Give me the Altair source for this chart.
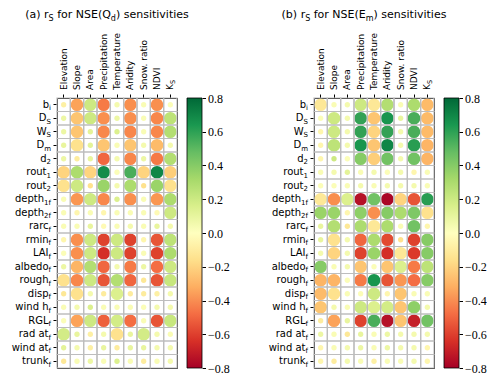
import altair as alt
import pandas as pd

# ---------------- data ----------------
col_names = ["Elevation", "Slope", "Area", "Precipitation", "Temperature",
             "Aridity", "Snow. ratio", "NDVI", "K"]
col_subs = ["", "", "", "", "", "", "", "", "S"]
row_bases = ["b", "D", "W", "D", "d", "rout", "rout", "depth", "depth", "rarc",
             "rmin", "LAI", "albedo", "rough", "disp", "wind h", "RGL",
             "rad at", "wind at", "trunk"]
row_subs = ["i", "S", "S", "m", "2", "1", "2", "1f", "2f", "f",
            "f", "f", "f", "f", "f", "f", "f", "f", "f", "f"]

# panel (a): r_S for NSE(Q_d)
r_a = [
    [-0.08, -0.35, 0.20, -0.45, 0.05, -0.40, 0.03, -0.40, 0.02],
    [0.08, -0.25, 0.20, -0.40, 0.08, -0.40, 0.03, -0.42, 0.25],
    [0.08, -0.25, 0.12, -0.42, 0.15, -0.42, 0.03, -0.42, 0.28],
    [0.10, -0.15, 0.12, -0.25, 0.03, -0.25, 0.05, -0.28, 0.05],
    [0.08, -0.10, 0.10, -0.50, 0.05, -0.42, 0.08, -0.45, 0.28],
    [-0.20, 0.30, -0.20, 0.68, 0.02, 0.55, -0.20, 0.70, -0.22],
    [-0.15, 0.20, -0.15, 0.35, 0.05, 0.30, -0.15, 0.35, -0.15],
    [0.03, -0.38, 0.20, -0.42, 0.15, -0.40, 0.03, -0.38, 0.30],
    [0.03, -0.05, 0.03, -0.05, 0.03, 0.03, 0.03, -0.03, 0.20],
    [0.03, 0.03, 0.10, -0.03, 0.03, 0.05, 0.03, 0.10, 0.05],
    [-0.05, -0.40, 0.20, -0.60, 0.20, -0.60, -0.05, -0.55, 0.25],
    [0.02, -0.40, 0.20, -0.65, 0.20, -0.60, 0.03, -0.60, 0.30],
    [0.08, -0.30, 0.28, -0.50, 0.05, -0.45, 0.08, -0.48, 0.20],
    [-0.15, -0.42, 0.20, -0.55, 0.28, -0.50, -0.12, -0.55, 0.22],
    [-0.12, -0.15, 0.05, -0.10, 0.15, -0.10, -0.10, -0.08, 0.05],
    [0.03, 0.05, 0.15, 0.03, 0.03, 0.03, 0.02, 0.05, 0.05],
    [0.02, -0.35, 0.20, -0.52, 0.18, -0.48, 0.03, -0.55, 0.22],
    [0.18, 0.10, -0.08, 0.05, -0.15, 0.10, 0.18, 0.05, 0.03],
    [0.12, 0.05, -0.08, 0.10, -0.10, 0.10, 0.10, 0.05, 0.05],
    [-0.12, 0.03, 0.08, 0.03, 0.15, 0.03, -0.10, 0.03, 0.05],
]
sig_a = [
    [0, 1, 1, 1, 0, 1, 0, 1, 0],
    [0, 1, 1, 1, 0, 1, 0, 1, 1],
    [0, 1, 0, 1, 0, 1, 0, 1, 1],
    [0, 1, 0, 1, 0, 1, 0, 1, 0],
    [0, 0, 0, 1, 0, 1, 0, 1, 1],
    [1, 1, 1, 1, 0, 1, 1, 1, 1],
    [1, 1, 0, 1, 0, 1, 0, 1, 1],
    [0, 1, 1, 1, 0, 1, 0, 1, 1],
    [0, 0, 0, 0, 0, 0, 0, 0, 1],
    [0, 0, 0, 0, 0, 0, 0, 0, 0],
    [0, 1, 1, 1, 1, 1, 0, 1, 1],
    [0, 1, 1, 1, 1, 1, 0, 1, 1],
    [0, 1, 1, 1, 0, 1, 0, 1, 1],
    [1, 1, 1, 1, 1, 1, 0, 1, 1],
    [0, 1, 0, 0, 1, 0, 0, 0, 0],
    [0, 0, 0, 0, 0, 0, 0, 0, 0],
    [0, 1, 1, 1, 1, 1, 0, 1, 1],
    [1, 0, 0, 0, 1, 0, 1, 0, 0],
    [0, 0, 0, 0, 0, 0, 0, 0, 0],
    [0, 0, 0, 0, 0, 0, 0, 0, 0],
]

# panel (b): r_S for NSE(E_m)
r_b = [
    [-0.12, 0.03, 0.05, 0.20, -0.12, 0.28, 0.03, 0.30, -0.28],
    [0.02, 0.20, 0.05, 0.60, -0.25, 0.65, 0.10, 0.55, -0.28],
    [-0.05, 0.20, 0.05, 0.60, -0.20, 0.60, 0.05, 0.55, -0.28],
    [-0.05, 0.25, 0.05, 0.65, -0.25, 0.70, 0.05, 0.62, -0.30],
    [-0.05, 0.20, 0.02, 0.40, -0.22, 0.45, 0.05, 0.45, -0.30],
    [0.03, 0.05, 0.12, 0.03, 0.05, 0.02, 0.05, -0.05, 0.03],
    [0.02, 0.02, 0.03, 0.05, 0.03, 0.05, 0.05, 0.05, 0.03],
    [-0.12, -0.40, 0.15, -0.75, 0.45, -0.78, -0.20, -0.55, 0.62],
    [0.35, 0.35, -0.05, 0.38, -0.40, 0.40, 0.30, 0.42, -0.15],
    [0.10, 0.28, -0.12, 0.30, -0.12, 0.30, 0.03, 0.45, -0.05],
    [0.10, -0.15, 0.05, -0.50, 0.30, -0.58, -0.15, -0.60, 0.40],
    [0.05, -0.20, 0.05, -0.60, 0.35, -0.65, -0.12, -0.62, 0.40],
    [0.40, 0.03, 0.05, -0.25, 0.02, -0.25, 0.15, -0.45, 0.25],
    [-0.30, -0.30, 0.02, -0.45, 0.65, -0.55, -0.38, -0.48, 0.40],
    [-0.28, -0.15, 0.03, 0.02, 0.20, -0.05, -0.25, 0.03, 0.03],
    [-0.25, 0.05, 0.03, 0.20, 0.15, 0.18, -0.25, 0.38, 0.05],
    [-0.10, -0.35, 0.10, -0.60, 0.55, -0.75, -0.25, -0.70, 0.45],
    [0.08, 0.03, -0.12, 0.10, 0.03, 0.08, 0.05, 0.05, 0.05],
    [-0.05, 0.03, 0.05, 0.08, 0.03, 0.08, 0.05, 0.05, -0.05],
    [-0.05, -0.10, 0.05, 0.03, -0.08, 0.03, 0.03, 0.05, -0.05],
]
sig_b = [
    [1, 0, 0, 1, 1, 1, 0, 1, 1],
    [0, 1, 0, 1, 1, 1, 0, 1, 1],
    [0, 1, 0, 1, 1, 1, 0, 1, 1],
    [0, 1, 0, 1, 1, 1, 0, 1, 1],
    [0, 0, 0, 1, 1, 1, 0, 1, 1],
    [0, 0, 0, 0, 0, 0, 0, 0, 0],
    [0, 0, 0, 0, 0, 0, 0, 0, 0],
    [1, 1, 1, 1, 1, 1, 1, 1, 1],
    [1, 1, 0, 1, 1, 1, 1, 1, 1],
    [0, 1, 0, 1, 1, 1, 0, 1, 0],
    [0, 1, 0, 1, 1, 1, 0, 1, 1],
    [0, 1, 0, 1, 1, 1, 1, 1, 1],
    [1, 0, 0, 1, 0, 1, 1, 1, 1],
    [1, 1, 0, 1, 1, 1, 1, 1, 1],
    [1, 1, 0, 0, 1, 0, 1, 0, 0],
    [1, 0, 0, 1, 1, 1, 1, 1, 0],
    [0, 1, 0, 1, 1, 1, 1, 1, 1],
    [0, 0, 0, 0, 0, 0, 0, 0, 0],
    [0, 0, 0, 0, 0, 0, 0, 0, 0],
    [0, 0, 0, 0, 0, 0, 0, 0, 0],
]

# title pieces: (text, is_subscript, leading space)
title_a = [("(a) r", 0, 0), ("S", 1, 0), ("for NSE(Q", 0, 1), ("d", 1, 0),
           (") sensitivities", 0, 0)]
title_b = [("(b) r", 0, 0), ("S", 1, 0), ("for NSE(E", 0, 1), ("m", 1, 0),
           (") sensitivities", 0, 0)]

cbar_ticks = [-0.8, -0.6, -0.4, -0.2, 0.0, 0.2, 0.4, 0.6, 0.8]

# ---------------- styling ----------------
SANS = "DejaVu Sans"
SERIF = "Liberation Serif"
RDYLGN = ["#a50026", "#d73027", "#f46d43", "#fdae61", "#fee08b", "#ffffbf",
          "#d9ef8b", "#a6d96a", "#66bd63", "#1a9850", "#006837"]
CDOM = [-0.8 + 0.16 * k for k in range(11)]
PW, PH = 120, 270
FS_TITLE, FS_TSUB = 11, 8
FS_Y, FS_YSUB = 10, 7
FS_X, FS_XSUB = 9, 6.5

W_EM = {" ": 0.318, "(": 0.390, ")": 0.390, ".": 0.318, "a": 0.613,
        "b": 0.635, "c": 0.550, "d": 0.635, "e": 0.615, "f": 0.352, "h": 0.634,
        "i": 0.278, "l": 0.278, "m": 0.974, "n": 0.634, "o": 0.612, "p": 0.635,
        "r": 0.411, "s": 0.521, "t": 0.392, "u": 0.634, "v": 0.592, "w": 0.818,
        "E": 0.632, "K": 0.656, "N": 0.748, "Q": 0.787, "S": 0.635, "1": 0.636,
        "2": 0.636}


def tw(s, fs):
    return sum(W_EM.get(ch, 0.6) for ch in s) * fs


row_keys = [b + "_" + s for b, s in zip(row_bases, row_subs)]
col_keys = [c + s for c, s in zip(col_names, col_subs)]


def panel(r, sig, tpieces):
    recs = []
    for i, rk in enumerate(row_keys):
        for j, ck in enumerate(col_keys):
            recs.append({"row": rk, "col": ck, "r": r[i][j], "sig": sig[i][j]})
    df = pd.DataFrame(recs)

    xenc = alt.X("col:N", scale=alt.Scale(domain=col_keys, paddingInner=0, paddingOuter=0),
                 axis=alt.Axis(orient="top", labels=False, title=None, tickSize=4,
                               tickColor="black", domainColor="black", grid=False))
    yenc = alt.Y("row:N", scale=alt.Scale(domain=row_keys, paddingInner=0, paddingOuter=0),
                 axis=alt.Axis(orient="left", labels=False, title=None, tickSize=4,
                               tickColor="black", domainColor="black", grid=False))

    circles = alt.Chart(df).mark_circle(opacity=1).encode(
        x=xenc, y=yenc,
        color=alt.Color("r:Q", scale=alt.Scale(domain=CDOM, range=RDYLGN), legend=None),
        size=alt.Size("sig:Q", scale=alt.Scale(domain=[0, 1], range=[28, 160]), legend=None),
    )
    cells = alt.Chart(df).mark_rect(filled=False, stroke="#bdbdbd", strokeWidth=1.2).encode(
        x=alt.X("col:N"), y=alt.Y("row:N"))

    lab = pd.DataFrame({"row": row_keys, "base": row_bases, "sub": row_subs,
                        "lx": [-(6 + tw(s, FS_YSUB)) for s in row_subs]})
    ybase = alt.Chart(lab).mark_text(align="right", baseline="middle", font=SANS,
                                     fontSize=FS_Y, color="black").encode(
        x=alt.X("lx:Q", scale=None, axis=None), y=alt.Y("row:N"), text="base:N")
    ysub = alt.Chart(lab).mark_text(align="left", baseline="middle", font=SANS,
                                    fontSize=FS_YSUB, dy=3.5, color="black").encode(
        x=alt.X("lx:Q", scale=None, axis=None), y=alt.Y("row:N"), text="sub:N")

    xl = pd.DataFrame({"col": col_keys, "label": col_names, "sub": col_subs})
    xbase = alt.Chart(xl).mark_text(angle=270, align="left", baseline="middle", font=SANS,
                                    fontSize=FS_X, dx=8, color="black").encode(
        x=alt.X("col:N"), y=alt.value(0), text="label:N")
    xsub = alt.Chart(xl[xl["sub"] != ""]).mark_text(
        angle=270, align="left", baseline="middle", font=SANS, fontSize=FS_XSUB,
        dx=8 + tw("K", FS_X), dy=2.5, color="black").encode(
        x=alt.X("col:N"), y=alt.value(0), text="sub:N")

    space = tw(" ", FS_TITLE)
    total = sum(tw(t, FS_TSUB if s else FS_TITLE) + (space if g else 0)
                for t, s, g in tpieces)
    x0 = 50 - total / 2
    trecs = []
    for t, s, g in tpieces:
        fs = FS_TSUB if s else FS_TITLE
        if g:
            x0 += space
        trecs.append({"t": t, "px": x0, "py": -80 + (3 if s else 0), "fs": fs})
        x0 += tw(t, fs)
    tdf = pd.DataFrame(trecs)
    title = alt.Chart(tdf).mark_text(align="left", baseline="alphabetic", font=SANS,
                                     color="black").encode(
        x=alt.X("px:Q", scale=None, axis=None), y=alt.Y("py:Q", scale=None, axis=None),
        size=alt.Size("fs:Q", scale=None, legend=None), text="t:N")

    grid_part = alt.layer(circles, cells, ybase, ysub, xbase, xsub, title)

    # colour bar, drawn 10 px right of the grid
    grad = {"gradient": "linear", "x1": 0, "x2": 0, "y1": 1, "y2": 0,
            "stops": [{"offset": k / 10, "color": c} for k, c in enumerate(RDYLGN)]}
    cbar = alt.Chart(pd.DataFrame({"v": [0]})).mark_rect(
        fill=grad, stroke="black", strokeWidth=0.8).encode(
        x=alt.value(PW + 10), x2=alt.value(PW + 25),
        y=alt.YDatum(0.8, type="quantitative",
                     scale=alt.Scale(domain=[-0.8, 0.8], nice=False, zero=False),
                     axis=alt.Axis(orient="right", offset=25, values=cbar_ticks, format=".1f",
                                   title=None, labelFont=SERIF, labelFontSize=12,
                                   tickSize=3.5, tickColor="black", domain=False,
                                   grid=False, labelPadding=2, labelColor="black",
                                   labelOverlap=False)),
        y2=alt.Y2Datum(-0.8),
    )
    return alt.layer(grid_part, cbar).resolve_scale(y="independent").properties(
        width=PW, height=PH)


chart = alt.hconcat(panel(r_a, sig_a, title_a), panel(r_b, sig_b, title_b),
                    spacing=137, bounds="flush").properties(
    padding={"left": 3, "top": 0, "right": 0, "bottom": 0}
).configure_view(stroke="black", strokeWidth=1)

chart.save("out.html", embed_options={"renderer": "svg", "actions": False})
